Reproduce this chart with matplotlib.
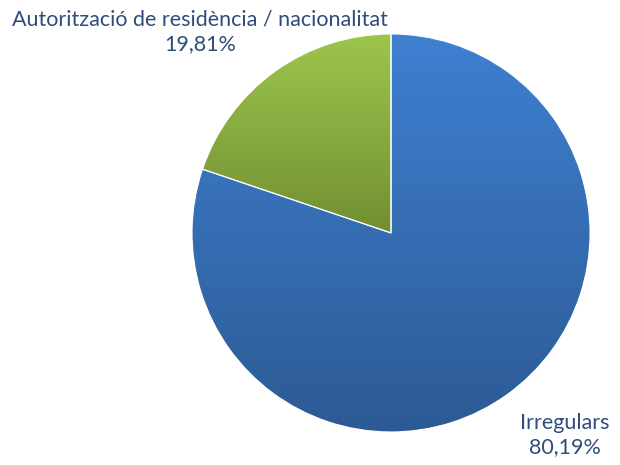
import matplotlib
matplotlib.use("Agg")
import matplotlib.pyplot as plt
import numpy as np
from matplotlib.colors import LinearSegmentedColormap

categories = ["Irregulars", "Autorització de residència / nacionalitat"]
values = [80.19, 19.81]
value_labels = ["80,19%", "19,81%"]

top_colors = ["#3f80d2", "#9dc64c"]
bottom_colors = ["#2c5a94", "#718f32"]
text_color = "#2f4d7c"

fig = plt.figure(figsize=(6.2, 4.65), dpi=100)
ax = fig.add_axes([0.3097, 0.071, 0.642, 0.856])
wedges, _ = ax.pie(values, startangle=90, counterclock=False, radius=1,
                   wedgeprops=dict(linewidth=0.8, edgecolor="white"))
ax.set_xlim(-1, 1)
ax.set_ylim(-1, 1)
ax.set_aspect("equal")
ax.axis("off")

for w, ct, cb in zip(wedges, top_colors, bottom_colors):
    w.set_facecolor("none")
    w.set_zorder(2)
    verts = w.get_path().vertices
    ymin, ymax = verts[:, 1].min(), verts[:, 1].max()
    cmap = LinearSegmentedColormap.from_list("g", [cb, ct])
    grad = np.linspace(0, 1, 256).reshape(-1, 1)
    im = ax.imshow(grad, extent=(-1, 1, ymin, ymax), origin="lower",
                   cmap=cmap, aspect="auto", zorder=1)
    im.set_clip_path(w)

ax.set_xlim(-1, 1)
ax.set_ylim(-1, 1)

fs = 15.5
ax.text(-0.96, 1.01, categories[1] + "\n" + value_labels[1], ha="center", va="center",
        color=text_color, fontsize=fs, family="Lato", linespacing=1.3, clip_on=False)
ax.text(0.874, -1.015, categories[0] + "\n" + value_labels[0], ha="center", va="center",
        color=text_color, fontsize=fs, family="Lato", linespacing=1.3, clip_on=False)

fig.savefig("out.png", dpi=100)
